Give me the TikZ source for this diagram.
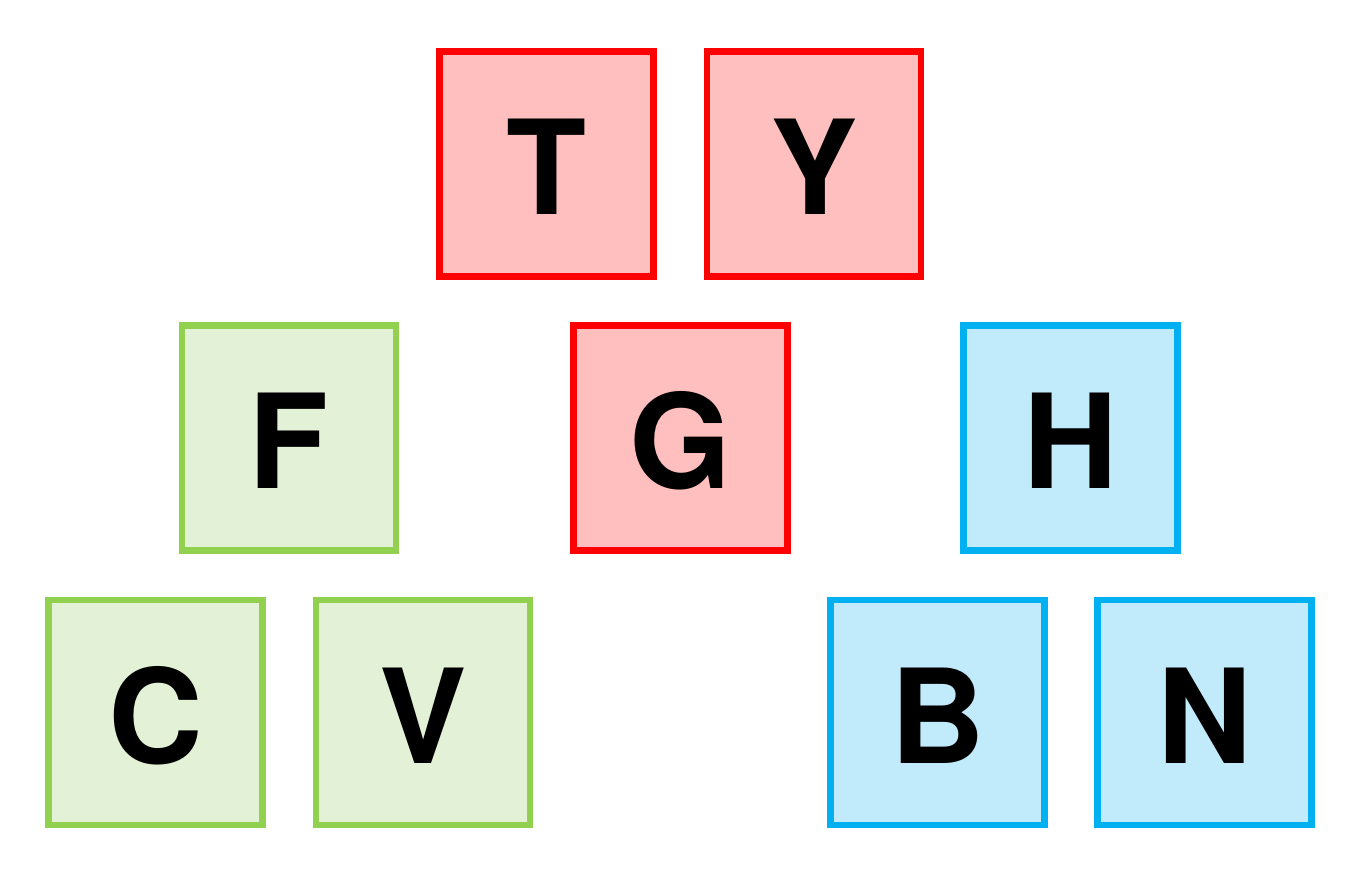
\documentclass[tikz,border=0pt]{standalone}
\usepackage{fontspec}
\setmainfont{TeX Gyre Heros}
\definecolor{redb}{HTML}{FF0000}
\definecolor{redf}{HTML}{FFBFBF}
\definecolor{grnb}{HTML}{92D050}
\definecolor{grnf}{HTML}{E3F1D6}
\definecolor{blub}{HTML}{00B0F0}
\definecolor{bluf}{HTML}{C1EBFA}
\tikzset{
  tile/.style={draw, line width=6.5pt, minimum width=214pt, minimum height=225pt, inner sep=0pt,
    font=\fontsize{131}{131}\selectfont\bfseries, text height=102pt, text depth=0pt},
  redtile/.style={tile, draw=redb, fill=redf},
  grntile/.style={tile, draw=grnb, fill=grnf},
  blutile/.style={tile, draw=blub, fill=bluf}
}
\begin{document}
\begin{tikzpicture}[x=1pt,y=1pt]
\useasboundingbox (0,0) rectangle (1361,889);
\node[redtile] (T) at (546.5,725) {T};
\node[redtile] (Y) at (814,725) {Y};
\node[grntile] (F) at (289,451) {F};
\node[redtile] (G) at (680.5,451) {G};
\node[blutile] (H) at (1070.5,451) {H};
\node[grntile] (C) at (155.5,176.5) {C};
\node[grntile] (V) at (423,176.5) {V};
\node[blutile] (B) at (937.5,176.5) {B};
\node[blutile] (N) at (1204.5,176.5) {N};
\end{tikzpicture}
\end{document}
